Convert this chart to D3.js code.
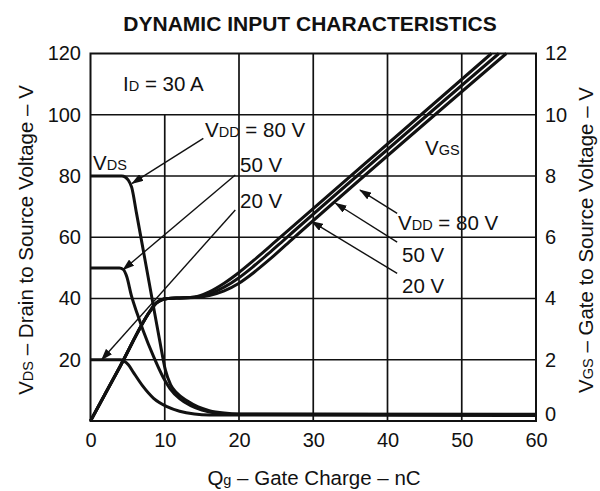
<!DOCTYPE html>
<html>
<head>
<meta charset="utf-8">
<script src="https://d3js.org/d3.v7.min.js"></script>
<style>
  body { margin:0; background:#fff; }
  svg text { font-family: "Liberation Sans", Arial, sans-serif; fill:#111; }
  .axis text { font-size:20px; }
  .axis .domain { display:none; }
  .grid line { stroke:#111; stroke-width:1.7; }
  .curve { fill:none; stroke:#111; stroke-width:3; stroke-linejoin:round; }
  .arrow { stroke:#111; stroke-width:1.4; }
  .lbl { font-size:20.5px; }
</style>
</head>
<body>
<script>
// axis ticks
var qTicks = [0, 10, 20, 30, 40, 50, 60];
var vdsTicks = [20, 40, 60, 80, 100, 120];
var vgsTicks = [0, 2, 4, 6, 8, 10, 12];

// drain-source voltage (V) vs gate charge (nC), left axis
var vds80 = [[0,80],[4.2,80],[4.7,79.6],[5.1,78.6],[5.55,76.3],[6.2,67.8],[7.2,54.5],[8.25,40.5],[9.3,26.5],[10.1,16.5],[10.8,11.8],[11.6,9.2],[13,6.6],[14.5,4.6],[16,3.4],[18,2.6],[20,2.3],[60,2.2]];
var vds50 = [[0,50],[3.9,50],[4.4,49.5],[4.9,47],[5.5,41],[6.3,35],[7.1,29.5],[8.5,21],[9.8,14.2],[10.7,10.6],[12,7.3],[13.5,5],[15,3.6],[17,2.6],[19,2.2],[60,2.0]];
var vds20 = [[0,20],[4,20],[4.5,19.6],[5.1,18.4],[5.8,15.8],[7.1,11.2],[8.5,7.4],[10.3,4.7],[12,3.2],[14,2.3],[16,2.0],[60,1.8]];

// gate-source voltage (V) vs gate charge (nC), right axis
var vgs20 = [[0,0],[4,1.79],[8,3.58],[8.8,3.84],[9.6,3.96],[10.5,4.0],[12,4.02],[14,4.05],[16,4.22],[18,4.5],[20,4.85],[22,5.25],[25,5.88],[54,12]];
var vgs50 = [[0,0],[4,1.79],[8,3.58],[8.8,3.84],[9.6,3.96],[10.5,4.0],[12,4.02],[14,4.04],[16,4.15],[18,4.37],[20,4.68],[22,5.06],[24,5.47],[26,5.9],[55,12]];
var vgs80 = [[0,0],[4,1.79],[8,3.58],[8.8,3.84],[9.6,3.96],[10.5,4.0],[12,4.02],[14,4.03],[16,4.1],[18,4.25],[20,4.5],[22,4.85],[24,5.25],[27,5.9],[56,12]];

// annotation arrows [q1, v1, q2, v2] (tail -> head)
var vdsArrows = [[15.2,92.3,5.6,77.6],[19.5,80.3,4.4,49.4],[19.5,68.9,1.5,20.0]];
var vgsArrows = [[41.3,6.78,36.3,7.54],[41.3,5.84,33.0,7.11],[41.3,4.82,29.8,6.51]];

var margin = {top: 53.5, right: 64, bottom: 70, left: 90.5},
    width = 600 - margin.left - margin.right,
    height = 491 - margin.top - margin.bottom;

var svg = d3.select("body").append("svg")
    .attr("width", 600)
    .attr("height", 491);

var defs = svg.append("defs");
defs.append("marker")
    .attr("id", "head")
    .attr("markerUnits", "userSpaceOnUse")
    .attr("markerWidth", 12).attr("markerHeight", 8)
    .attr("refX", 11).attr("refY", 4)
    .attr("orient", "auto")
  .append("path")
    .attr("d", "M0,0L12,4L0,8z")
    .attr("fill", "#111");

var g = svg.append("g")
    .attr("transform", "translate(" + margin.left + "," + margin.top + ")");

var x = d3.scaleLinear().domain([0, 60]).range([0, width]);
var yL = d3.scaleLinear().domain([0, 120]).range([height, 0]);
var yR = d3.scaleLinear().domain([0, 12]).range([height, 0]);

// title
svg.append("text")
    .attr("x", 310).attr("y", 31)
    .attr("text-anchor", "middle")
    .style("font-size", "21px").style("font-weight", "bold")
    .text("DYNAMIC INPUT CHARACTERISTICS");

// grid
var grid = g.append("g").attr("class", "grid");
grid.selectAll(".vl").data(qTicks.slice(1, -1)).enter().append("line")
    .attr("x1", d => x(d)).attr("x2", d => x(d))
    .attr("y1", d => d === 10 ? yL(100) : 0)
    .attr("y2", height);
grid.selectAll(".hl").data(vdsTicks.slice(0, -1)).enter().append("line")
    .attr("x1", 0).attr("x2", width)
    .attr("y1", d => yL(d)).attr("y2", d => yL(d));
g.append("rect")
    .attr("width", width).attr("height", height)
    .attr("fill", "none").attr("stroke", "#111").attr("stroke-width", 2);

// axes
g.append("g")
    .attr("class", "axis")
    .attr("transform", "translate(0," + height + ")")
    .call(d3.axisBottom(x).tickValues(qTicks).tickSize(0).tickPadding(12));
g.append("g")
    .attr("class", "axis")
    .call(d3.axisLeft(yL).tickValues(vdsTicks).tickSize(0).tickPadding(9.5));
var ra = g.append("g")
    .attr("class", "axis")
    .attr("transform", "translate(" + width + ",0)")
    .call(d3.axisRight(yR).tickValues(vgsTicks).tickSize(0).tickPadding(9));
ra.selectAll(".tick").filter(d => d === 0).select("text").attr("y", -7);

// curves
var lineL = d3.line().x(d => x(d[0])).y(d => yL(d[1])).curve(d3.curveMonotoneX);
var lineR = d3.line().x(d => x(d[0])).y(d => yR(d[1])).curve(d3.curveMonotoneX);
[vds80, vds50, vds20].forEach(s => {
  g.append("path").attr("class", "curve").attr("d", lineL(s));
});
[vgs20, vgs50, vgs80].forEach(s => {
  g.append("path").attr("class", "curve").attr("d", lineR(s));
});

// arrows
g.selectAll(".al").data(vdsArrows).enter().append("line")
    .attr("class", "arrow")
    .attr("x1", d => x(d[0])).attr("y1", d => yL(d[1]))
    .attr("x2", d => x(d[2])).attr("y2", d => yL(d[3]))
    .attr("marker-end", "url(#head)");
g.selectAll(".ar").data(vgsArrows).enter().append("line")
    .attr("class", "arrow")
    .attr("x1", d => x(d[0])).attr("y1", d => yR(d[1]))
    .attr("x2", d => x(d[2])).attr("y2", d => yR(d[3]))
    .attr("marker-end", "url(#head)");

// text labels with small-cap subscripts
function label(px, py, parts, rot) {
  var t = svg.append("text").attr("class", "lbl");
  if (rot) {
    t.attr("transform", "translate(" + px + "," + py + ") rotate(-90)")
     .attr("text-anchor", "middle");
  } else {
    t.attr("x", px).attr("y", py);
  }
  parts.forEach(p => {
    var s = t.append("tspan").text(p[0]);
    if (p[1]) s.style("font-size", "14.5px");
  });
  return t;
}

label(123, 91, [["I"], ["D", 1], [" = 30 A"]]);
label(93, 170, [["V"], ["DS", 1]]);
label(205, 137, [["V"], ["DD", 1], [" = 80 V"]]);
label(240, 172, [["50 V"]]);
label(240, 208, [["20 V"]]);
label(425, 155, [["V"], ["GS", 1]]);
label(398, 230, [["V"], ["DD", 1], [" = 80 V"]]);
label(402, 262, [["50 V"]]);
label(402, 293, [["20 V"]]);

label(314, 485, [["Q"], ["g", 1], [" \u2013 Gate Charge \u2013 nC"]]).attr("text-anchor", "middle");
label(33, 240, [["V"], ["DS", 1], [" \u2013 Drain to Source Voltage \u2013 V"]], true);
label(593, 240, [["V"], ["GS", 1], [" \u2013 Gate to Source Voltage \u2013 V"]], true);
</script>
</body>
</html>
